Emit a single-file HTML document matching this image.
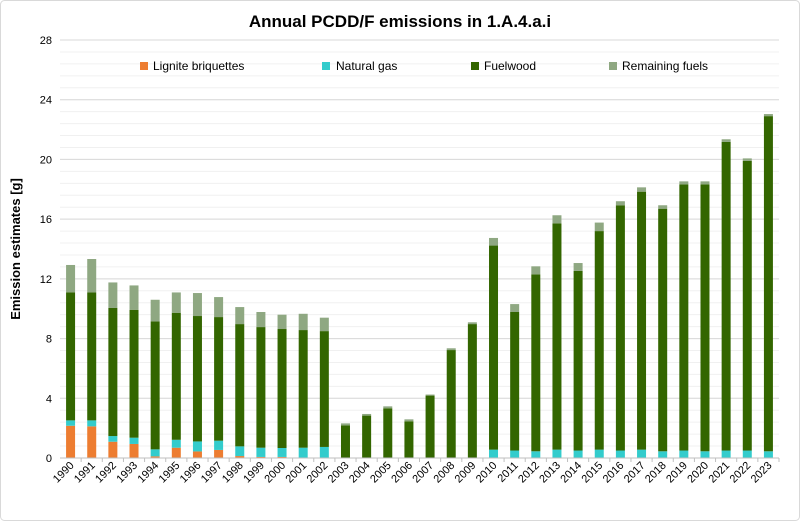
<!DOCTYPE html>
<html><head><meta charset="utf-8"><style>
body{margin:0;background:#fff;font-family:"Liberation Sans",sans-serif}
svg text{font-family:"Liberation Sans",sans-serif}
</style></head><body>
<svg id="chart" width="800" height="521" xmlns="http://www.w3.org/2000/svg">
<rect x="0.5" y="0.5" width="799" height="520" rx="4" fill="#fff" stroke="#d9d9d9"/>
<text x="400" y="27" text-anchor="middle" font-size="17" font-weight="bold" fill="#000">Annual PCDD/F emissions in 1.A.4.a.i</text>
<text transform="translate(20,249) rotate(-90)" text-anchor="middle" font-size="13" font-weight="bold" fill="#000">Emission estimates [g]</text>
<g id="grid"></g><g id="bars"></g><g id="axes"></g>
<g>
<rect x="140" y="62" width="8" height="8" fill="#ED7D31"/>
<text x="153" y="70" font-size="12" fill="#000">Lignite briquettes</text>
<rect x="322" y="62" width="8" height="8" fill="#33CCCC"/>
<text x="336" y="70" font-size="12" fill="#000">Natural gas</text>
<rect x="471" y="62" width="8" height="8" fill="#336600"/>
<text x="484" y="70" font-size="12" fill="#000">Fuelwood</text>
<rect x="609" y="62" width="8" height="8" fill="#8FA882"/>
<text x="622" y="70" font-size="12" fill="#000">Remaining fuels</text>
</g>
</svg>
<script>
const years=[1990,1991,1992,1993,1994,1995,1996,1997,1998,1999,2000,2001,2002,2003,2004,2005,2006,2007,2008,2009,2010,2011,2012,2013,2014,2015,2016,2017,2018,2019,2020,2021,2022,2023];
const lignite=[2.16,2.12,1.09,0.94,0.11,0.69,0.44,0.54,0.13,0.07,0.07,0.02,0.02,0,0,0,0,0,0,0,0,0,0,0,0,0,0,0,0,0,0,0,0,0];
const gas=[0.36,0.40,0.38,0.42,0.47,0.53,0.67,0.62,0.65,0.62,0.60,0.67,0.72,0,0,0,0,0,0,0,0.56,0.50,0.45,0.56,0.50,0.56,0.50,0.56,0.45,0.50,0.45,0.50,0.50,0.45];
const fuelwood=[8.57,8.57,8.58,8.57,8.57,8.51,8.40,8.28,8.19,8.08,7.97,7.88,7.76,2.19,2.84,3.33,2.46,4.18,7.23,8.97,13.67,9.28,11.85,15.16,12.03,14.64,16.43,17.28,16.25,17.83,17.88,20.67,19.40,22.45];
const remaining=[1.84,2.24,1.71,1.63,1.45,1.36,1.54,1.34,1.14,1.01,0.96,1.09,0.90,0.13,0.11,0.13,0.13,0.07,0.12,0.12,0.51,0.53,0.54,0.54,0.53,0.57,0.27,0.29,0.23,0.20,0.20,0.18,0.17,0.14];
const yTicks=[0,4,8,12,16,20,24,28];
const NS='http://www.w3.org/2000/svg';
const X0=60,X1=779,Y0=458,Y1=40,YMAX=28;
const band=(X1-X0)/years.length;
const y=v=>Y0-(v/YMAX)*(Y0-Y1);
const xc=i=>X0+band*(i+0.5);
function mk(tag,attrs,parent){const e=document.createElementNS(NS,tag);for(const k in attrs)e.setAttribute(k,attrs[k]);parent.appendChild(e);return e;}
const grid=document.getElementById('grid'),bars=document.getElementById('bars'),axes=document.getElementById('axes');
for(let v=0.8;v<YMAX;v+=0.8){
  const l=mk('line',{x1:X0,x2:X1,y1:y(v),y2:y(v),stroke:'#f0f0f0','stroke-width':1},grid);
  
  
}
yTicks.forEach(t=>{
  if(t>0){const l=mk('line',{x1:X0,x2:X1,y1:y(t),y2:y(t),stroke:'#d9d9d9','stroke-width':1},grid);
  
  }
  const tx=mk('text',{x:X0-8,y:y(t)+4,'text-anchor':'end','font-size':11,fill:'#000'},axes);
  tx.textContent=t;
  
  
});
const series=[[lignite,'#ED7D31','lignite'],[gas,'#33CCCC','gas'],[fuelwood,'#336600','fuelwood'],[remaining,'#8FA882','remaining']];
const bw=9;
years.forEach((yr,i)=>{
  let base=0;
  series.forEach(([arr,col,nm])=>{
    const v=arr[i];
    if(v>0){
      const r=mk('rect',{x:xc(i)-bw/2,y:y(base+v),width:bw,height:y(base)-y(base+v),fill:col},bars);
      
      
    }
    base+=v;
  });
  const tk=mk('line',{x1:xc(i)+band/2,x2:xc(i)+band/2,y1:Y0,y2:Y0+4,stroke:'#bfbfbf'},axes);
  
  
  const t=mk('text',{x:xc(i)+4,y:Y0+8,'text-anchor':'end','font-size':11,fill:'#000',transform:`rotate(-45 ${xc(i)+4} ${Y0+8})`},axes);
  t.textContent=yr;
  
  
});
const ax=mk('line',{x1:X0,x2:X1,y1:Y0,y2:Y0,stroke:'#bfbfbf'},axes);


</script>
</body></html>
